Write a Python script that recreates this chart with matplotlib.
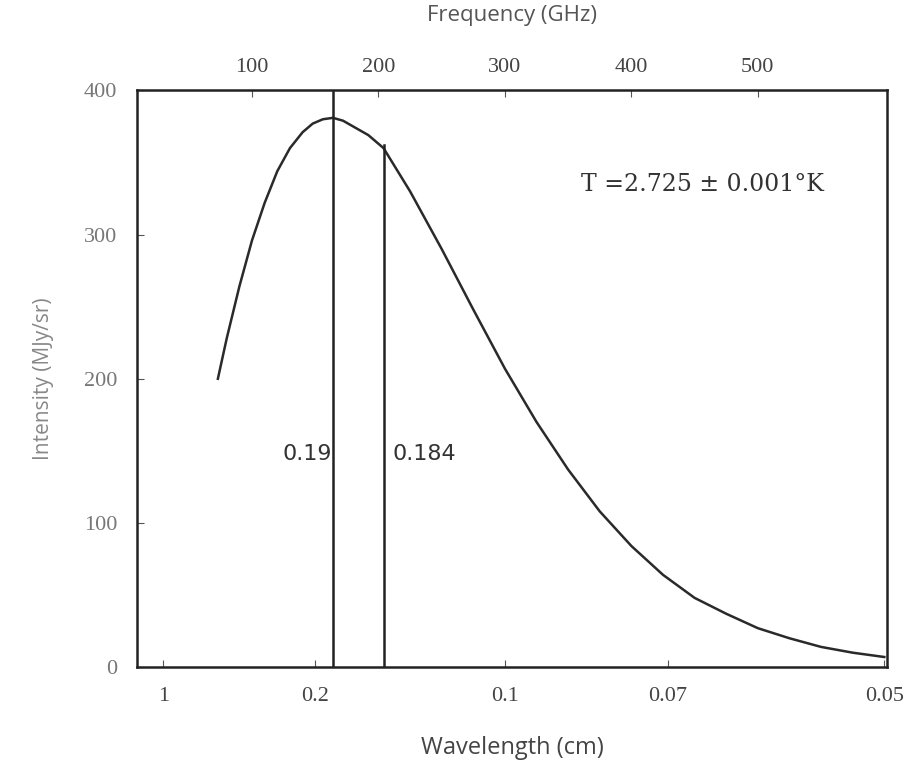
import matplotlib.pyplot as plt

# Spectrum (frequency in GHz, intensity in MJy/sr)
freq_ghz = [73, 80, 90, 100, 110, 120, 130, 140, 148, 156, 164, 172, 180,
            192, 204, 225, 250, 275, 300, 325, 350, 375, 400, 425, 450,
            475, 500, 525, 550, 575, 600]
intensity = [200, 228, 264, 296, 322, 344, 360, 371, 377, 380, 381, 379, 375,
             369, 360, 330, 290, 248, 207, 170, 137, 108, 84, 64, 48,
             37, 27, 20, 14, 10, 7]

freq_ticks = [100, 200, 300, 400, 500]
freq_labels = ['100', '200', '300', '400', '500']
wavelength_cm = [1, 0.2, 0.1, 0.07, 0.05]
wavelength_labels = ['1', '0.2', '0.1', '0.07', '0.05']
y_ticks = [0, 100, 200, 300, 400]

peak_freq = 164
mark_freq = 204
mark_top = 362

fig = plt.figure(figsize=(9.19, 7.73), dpi=100)
ax = fig.add_axes([0.149, 0.137, 0.816, 0.746])

ax.plot(freq_ghz, intensity, color='#2a2a2a', lw=1.8)
ax.axvline(peak_freq, color='#222222', lw=1.8)
ax.plot([mark_freq, mark_freq], [0, mark_top], color='#222222', lw=1.8)

ax.text(124, 148, '0.19', fontsize=16, color='#333333', va='center',
        family='DejaVu Sans')
ax.text(211, 148, '0.184', fontsize=16, color='#333333', va='center',
        family='DejaVu Sans')
ax.text(360, 335, 'T =2.725 \u00b1 0.001\u00b0K', fontsize=17, color='#333333',
        va='center', family='DejaVu Serif')

ax.set_xlim(9, 602)
ax.set_ylim(0, 400)

# bottom: wavelength labels placed at c / lambda
ax.set_xticks([30 / w for w in wavelength_cm])
ax.set_xticklabels(wavelength_labels, family='Liberation Serif', fontsize=16,
                   color='#444444')
ax.set_yticks(y_ticks)
ax.set_yticklabels([str(v) for v in y_ticks], family='Liberation Serif',
                   fontsize=16, color='#777777')
ax.tick_params(axis='both', direction='in', length=5, pad=14, color='#555555')

top = ax.secondary_xaxis('top')
top.set_xticks(freq_ticks)
top.set_xticklabels(freq_labels, family='Liberation Serif', fontsize=16,
                    color='#444444')
top.tick_params(direction='in', length=5, pad=10, color='#555555')
top.set_xlabel('Frequency (GHz)', fontsize=16, color='#555555',
               family='Open Sans', labelpad=26)

ax.set_xlabel('Wavelength (cm)', fontsize=17, color='#444444',
              family='Open Sans', labelpad=22)
ax.set_ylabel('Intensity (MJy/sr)', fontsize=15, color='#888888',
              family='Open Sans', labelpad=22)

for side in ['left', 'right', 'top', 'bottom']:
    ax.spines[side].set_linewidth(1.8)
    ax.spines[side].set_color('#222222')
top.spines['top'].set_visible(False)

fig.savefig('out.png', dpi=100)
